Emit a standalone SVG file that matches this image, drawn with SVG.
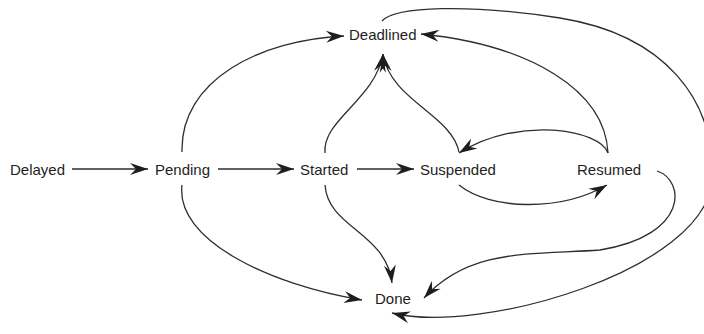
<svg xmlns="http://www.w3.org/2000/svg" width="704" height="334" viewBox="0 0 704 334">
<style>
.lbl{font-family:"Liberation Sans",Arial,sans-serif;font-size:15px;fill:#1e1e1e}
.edge{fill:none;stroke:#2e2e2e;stroke-width:1.3;marker-end:url(#arr)}
</style>
<defs>
<marker id="arr" viewBox="-19 -7 20 14" refX="0" refY="0" markerWidth="20" markerHeight="14" markerUnits="userSpaceOnUse" orient="auto">
<path d="M0,0 L-18,-6 L-12,0 L-18,6 Z" fill="#1e1e1e"/>
</marker>
</defs>
<rect width="704" height="334" fill="#ffffff"/>
<g id="connectors">
<path class="edge" d="M72,169 L148,169"/>
<path class="edge" d="M218,169 L294,169"/>
<path class="edge" d="M357,169 L414,169"/>
<path class="edge" d="M182,152 C180,80 260,40 344,36"/>
<path class="edge" d="M325,153 C322,120 375,100 383,54"/>
<path class="edge" d="M459,152 C452,115 390,100 383,54"/>
<path class="edge" d="M608,153 C600,130 520,115 459,153"/>
<path class="edge" d="M608,153 C605,90 530,45 421,34"/>
<path class="edge" d="M382,21 C395,6 470,4 560,18 C665,35 716,100 712,180 C706,270 480,335 392,313"/>
<path class="edge" d="M459,185 C490,210 560,212 607,185"/>
<path class="edge" d="M657,171 C685,180 690,235 600,250 C530,255 470,248 424,298"/>
<path class="edge" d="M325,185 C328,228 386,232 392,283"/>
<path class="edge" d="M182,185 C175,240 270,285 362,300"/>
</g>
<g id="node-delayed"><text class="lbl" x="10" y="175">Delayed</text></g>
<g id="node-pending"><text class="lbl" x="155" y="175">Pending</text></g>
<g id="node-started"><text class="lbl" x="300" y="175">Started</text></g>
<g id="node-suspended"><text class="lbl" x="420" y="175">Suspended</text></g>
<g id="node-resumed"><text class="lbl" x="577" y="175">Resumed</text></g>
<g id="node-deadlined"><text class="lbl" x="349" y="40">Deadlined</text></g>
<g id="node-done"><text class="lbl" x="375" y="304">Done</text></g>
</svg>
